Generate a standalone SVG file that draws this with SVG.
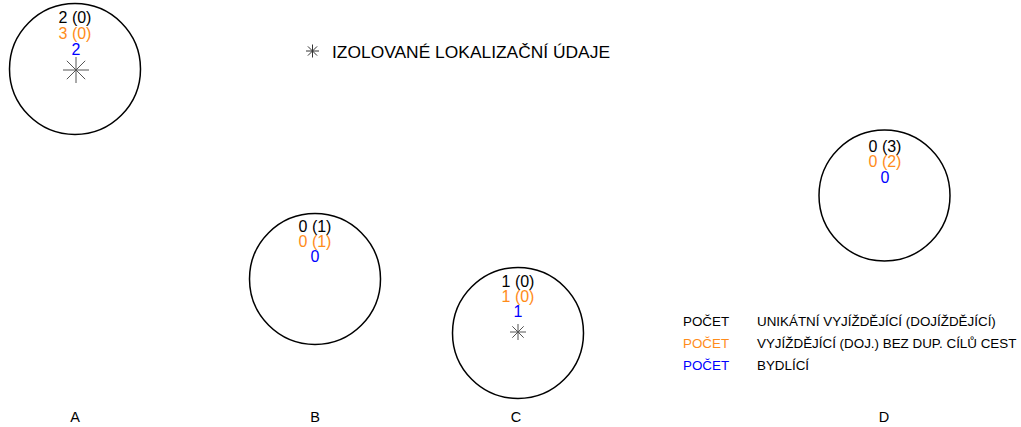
<svg xmlns="http://www.w3.org/2000/svg" width="1021" height="427" viewBox="0 0 1021 427">
<style>
text{font-family:"Liberation Sans",Arial,sans-serif}
.c{fill:none;stroke:#000;stroke-width:1.5}
.n{font-size:16px;text-anchor:middle}
.k{fill:#000}
.o{fill:#FF8C1A}
.b{fill:#0000FF}
.ast{stroke:#555;stroke-width:1;fill:none}
.lg{font-size:13.4px}
.lab{font-size:14.5px;text-anchor:middle;fill:#000}
</style>
<g id="connectors"></g>
<g id="legend-title">
<path class="ast" style="stroke:#333" d="M306,51H319M312.5,44.5V57.5M307.9,46.4L317.1,55.6M307.9,55.6L317.1,46.4"/>
<text x="332" y="58" style="font-size:17.4px" fill="#000">IZOLOVANÉ LOKALIZAČNÍ ÚDAJE</text>
</g>
<g id="nodeA">
<circle class="c" cx="75" cy="69" r="65.5"/>
<text class="n k" x="75" y="23">2 (0)</text>
<text class="n o" x="75" y="39">3 (0)</text>
<text class="n b" x="76" y="55">2</text>
<path class="ast" d="M63,70H89M76,57V83M66.8,60.8L85.2,79.2M66.8,79.2L85.2,60.8"/>
<text class="lab" x="75" y="422">A</text>
</g>
<g id="nodeB">
<circle class="c" cx="315" cy="279" r="65.5"/>
<text class="n k" x="315" y="232">0 (1)</text>
<text class="n o" x="315" y="247">0 (1)</text>
<text class="n b" x="315" y="262">0</text>
<text class="lab" x="315" y="422">B</text>
</g>
<g id="nodeC">
<circle class="c" cx="518" cy="333" r="65.5"/>
<text class="n k" x="518" y="287">1 (0)</text>
<text class="n o" x="518" y="302">1 (0)</text>
<text class="n b" x="518" y="317">1</text>
<path class="ast" d="M510,332H526M518,324V340M512.3,326.3L523.7,337.7M512.3,337.7L523.7,326.3"/>
<text class="lab" x="516" y="422">C</text>
</g>
<g id="nodeD">
<circle class="c" cx="884.5" cy="195.5" r="65.5"/>
<text class="n k" x="885" y="152">0 (3)</text>
<text class="n o" x="885" y="167">0 (2)</text>
<text class="n b" x="885" y="183">0</text>
<text class="lab" x="884" y="422">D</text>
</g>
<g id="legend">
<text class="lg k" x="683" y="326">POČET</text>
<text class="lg k" x="757" y="326">UNIKÁTNÍ VYJÍŽDĚJÍCÍ (DOJÍŽDĚJÍCÍ)</text>
<text class="lg o" x="683" y="348">POČET</text>
<text class="lg k" x="757" y="348">VYJÍŽDĚJÍCÍ (DOJ.) BEZ DUP. CÍLŮ CEST</text>
<text class="lg b" x="683" y="370">POČET</text>
<text class="lg k" x="757" y="370">BYDLÍCÍ</text>
</g>
</svg>
